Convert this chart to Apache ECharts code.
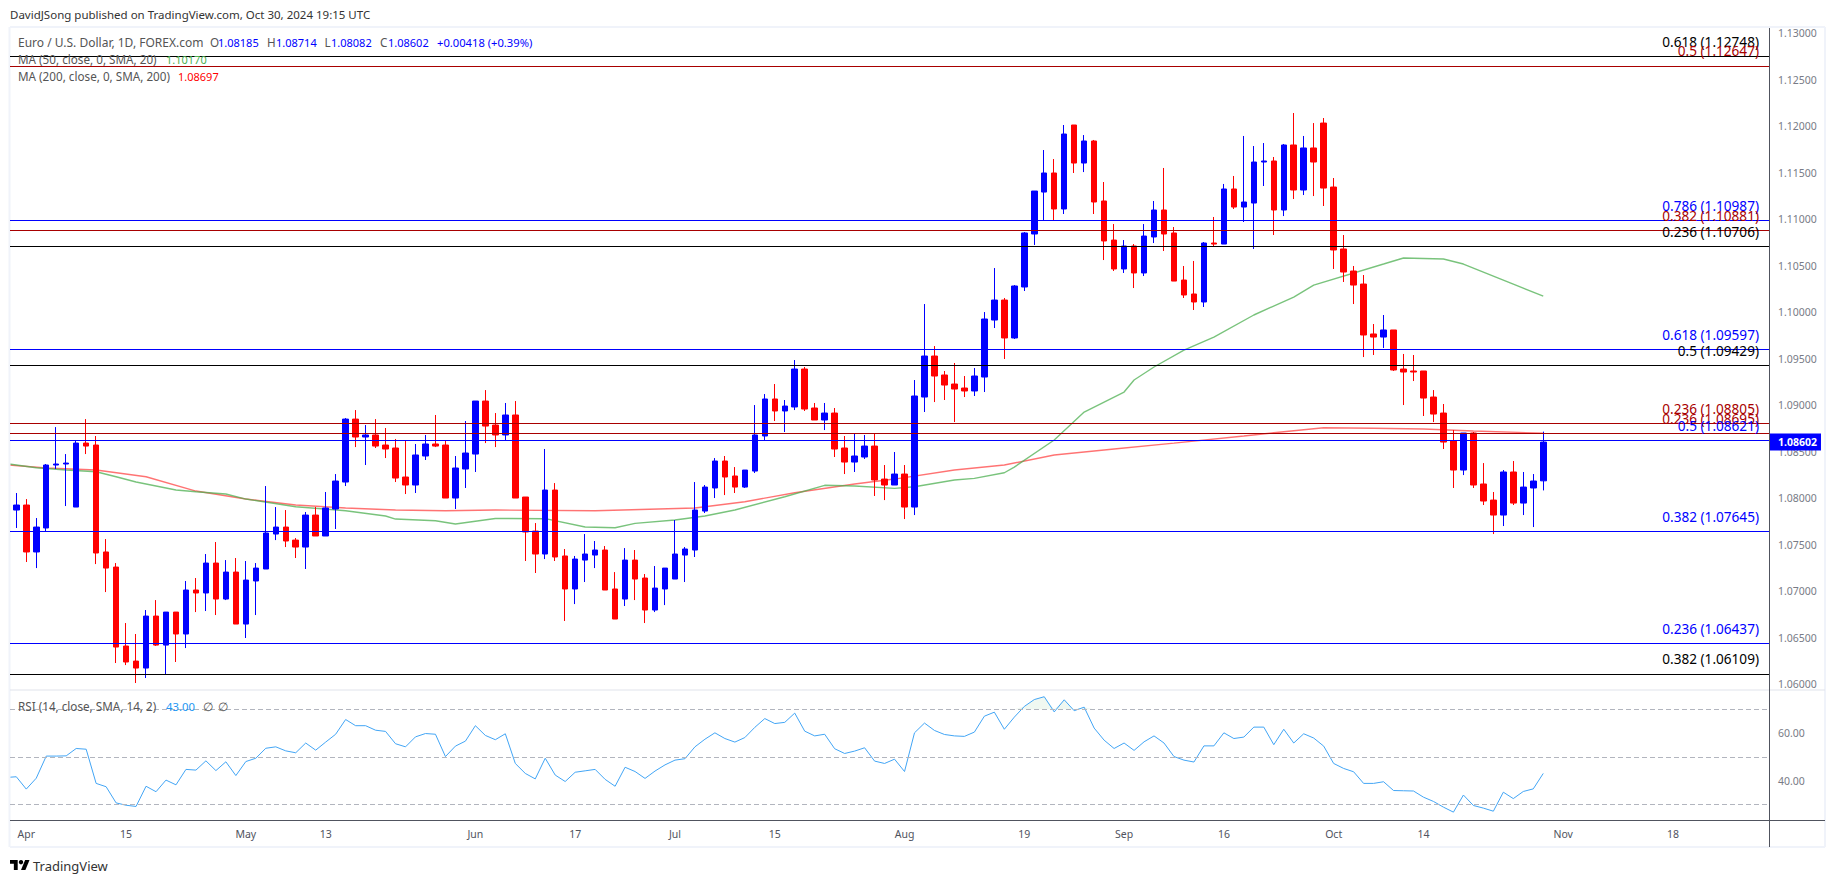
<!DOCTYPE html>
<html>
<head>
<meta charset="utf-8">
<title>Euro / U.S. Dollar, 1D</title>
<script src="https://cdn.jsdelivr.net/npm/echarts@6/dist/echarts.min.js"></script>
<style>
  html, body { margin: 0; padding: 0; background: #fff; }
  #chart { width: 1835px; height: 883px; }
</style>
</head>
<body>
<div id="chart"></div>
<script>
// daily bars, 29 Mar 2024 (bar 0) to 30 Oct 2024 (bar 153)
const candleOpen = [
  1.07871,1.07925,1.07420,1.07678,1.08355,1.08366,1.07903,1.08591,1.08570,1.07420,
  1.07258,1.06409,1.06247,1.06172,1.06731,1.06419,1.06774,1.06538,1.07011,1.06979,
  1.07301,1.06914,1.07204,1.06645,1.07108,1.07237,1.07613,1.07688,1.07548,1.07473,
  1.07817,1.07592,1.07882,1.08172,1.08849,1.08656,1.08678,1.08570,1.08538,1.08226,
  1.08140,1.08452,1.08581,1.08570,1.08000,1.08312,1.08473,1.09043,1.08785,1.08678,
  1.08893,1.08011,1.07645,1.07398,1.08086,1.07377,1.07022,1.07333,1.07387,1.07441,
  1.07022,1.06914,1.07333,1.07140,1.06796,1.07022,1.07129,1.07387,1.07441,1.07860,
  1.08108,1.08398,1.08237,1.08118,1.08290,1.08667,1.09065,1.08936,1.08979,1.09387,
  1.08968,1.08839,1.08914,1.08538,1.08387,1.08441,1.08559,1.08204,1.08140,1.08258,
  1.07903,1.09086,1.09527,1.09323,1.09226,1.09183,1.09151,1.09301,1.09914,1.10129,
  1.09721,1.10269,1.10839,1.11290,1.11495,1.11108,1.12011,1.11602,1.11839,1.11194,
  1.10774,1.10463,1.10710,1.10420,1.10807,1.11097,1.10850,1.10344,1.10194,1.10108,
  1.10742,1.10731,1.11323,1.11129,1.11172,1.11613,1.11624,1.11097,1.11796,1.11312,
  1.11764,1.12032,1.11344,1.10678,1.10441,1.10301,1.09764,1.09731,1.09807,1.09387,
  1.09366,1.09366,1.09086,1.08914,1.08613,1.08301,1.08699,1.08151,1.07978,1.07817,
  1.08280,1.07946,1.08108,1.08185
];
const candleClose = [
  1.07925,1.07420,1.07688,1.08355,1.08366,1.08376,1.08591,1.08559,1.07409,1.07247,
  1.06398,1.06237,1.06172,1.06731,1.06419,1.06774,1.06538,1.07011,1.06979,1.07301,
  1.06914,1.07204,1.06645,1.07118,1.07247,1.07624,1.07688,1.07538,1.07473,1.07817,
  1.07592,1.07893,1.08183,1.08849,1.08656,1.08678,1.08559,1.08527,1.08215,1.08140,
  1.08463,1.08581,1.08559,1.08000,1.08323,1.08484,1.09043,1.08774,1.08678,1.08893,
  1.08000,1.07635,1.07398,1.08086,1.07366,1.07022,1.07344,1.07398,1.07441,1.07011,
  1.06699,1.07333,1.07129,1.06796,1.07032,1.07247,1.07398,1.07452,1.07871,1.08118,
  1.08398,1.08226,1.08118,1.08301,1.08678,1.09065,1.08936,1.08989,1.09387,1.08957,
  1.08839,1.08914,1.08527,1.08387,1.08452,1.08559,1.08194,1.08140,1.08258,1.07903,
  1.09097,1.09527,1.09312,1.09215,1.09172,1.09151,1.09312,1.09925,1.10129,1.09721,
  1.10280,1.10850,1.11301,1.11495,1.11108,1.11914,1.11602,1.11839,1.11183,1.10764,
  1.10463,1.10710,1.10420,1.10817,1.11097,1.10839,1.10333,1.10183,1.10108,1.10742,
  1.10731,1.11323,1.11129,1.11183,1.11613,1.11624,1.11097,1.11796,1.11312,1.11764,
  1.11613,1.11333,1.10667,1.10430,1.10290,1.09753,1.09731,1.09807,1.09377,1.09355,
  1.09355,1.09075,1.08903,1.08602,1.08301,1.08699,1.08140,1.07968,1.07817,1.08280,
  1.07946,1.08118,1.08183,1.08602
];
const candleLow = [
  1.07678,1.07312,1.07247,1.07645,1.08312,1.07914,1.07903,1.08473,1.07290,1.06989,
  1.06226,1.06204,1.06011,1.06065,1.06409,1.06108,1.06237,1.06387,1.06774,1.06785,
  1.06742,1.06903,1.06645,1.06495,1.06742,1.07237,1.07548,1.07473,1.07355,1.07237,
  1.07592,1.07592,1.07667,1.08129,1.08548,1.08355,1.08538,1.08430,1.08172,1.08043,
  1.08054,1.08409,1.08548,1.08000,1.07882,1.08108,1.08280,1.08591,1.08548,1.08624,
  1.08000,1.07323,1.07194,1.07344,1.07323,1.06678,1.06860,1.07097,1.07247,1.07011,
  1.06699,1.06839,1.06903,1.06656,1.06774,1.06849,1.07129,1.07097,1.07366,1.07839,
  1.08000,1.08032,1.08054,1.08108,1.08269,1.08624,1.08828,1.08710,1.08946,1.08936,
  1.08839,1.08731,1.08441,1.08258,1.08280,1.08420,1.08022,1.07978,1.08140,1.07774,
  1.07817,1.08925,1.09032,1.09054,1.08817,1.09086,1.09097,1.09140,1.09828,1.09495,
  1.09710,1.10226,1.10721,1.10989,1.10979,1.11054,1.11495,1.11505,1.11054,1.10559,
  1.10441,1.10420,1.10258,1.10387,1.10742,1.10656,1.10333,1.10151,1.10022,1.10054,
  1.10699,1.10731,1.11108,1.10968,1.10678,1.11355,1.10828,1.11032,1.11215,1.11258,
  1.11247,1.11140,1.10463,1.10323,1.10086,1.09516,1.09538,1.09613,1.09366,1.09000,
  1.09258,1.08882,1.08817,1.08527,1.08108,1.08247,1.08108,1.07925,1.07613,1.07699,
  1.07925,1.07817,1.07688,1.08082
];
const candleHigh = [
  1.08054,1.07989,1.07785,1.08366,1.08763,1.08473,1.08624,1.08849,1.08667,1.07559,
  1.07301,1.06656,1.06538,1.06796,1.06903,1.06774,1.06774,1.07108,1.07140,1.07398,
  1.07527,1.07333,1.07355,1.07323,1.07301,1.08129,1.07903,1.07871,1.07570,1.07850,
  1.07903,1.08065,1.08258,1.08860,1.08946,1.08785,1.08849,1.08753,1.08635,1.08624,
  1.08581,1.08678,1.08893,1.08613,1.08452,1.08828,1.09043,1.09161,1.08914,1.09022,
  1.09043,1.08011,1.07731,1.08527,1.08161,1.07452,1.07377,1.07613,1.07538,1.07484,
  1.07204,1.07462,1.07441,1.07183,1.07269,1.07247,1.07764,1.07473,1.08172,1.08140,
  1.08430,1.08452,1.08333,1.08301,1.09000,1.09118,1.09226,1.09054,1.09484,1.09409,
  1.09022,1.09022,1.08968,1.08667,1.08699,1.08678,1.08699,1.08355,1.08495,1.08355,
  1.09269,1.10086,1.09634,1.09366,1.09452,1.09312,1.09398,1.10000,1.10473,1.10151,
  1.10290,1.10860,1.11301,1.11742,1.11645,1.12011,1.12011,1.11903,1.11850,1.11398,
  1.10946,1.10774,1.10731,1.10946,1.11194,1.11549,1.10914,1.10495,1.10549,1.10753,
  1.11022,1.11377,1.11463,1.11893,1.11785,1.11817,1.11667,1.11807,1.12140,1.11893,
  1.12032,1.12086,1.11441,1.10828,1.10495,1.10398,1.09871,1.09968,1.09807,1.09549,
  1.09538,1.09366,1.09161,1.09011,1.08731,1.08699,1.08710,1.08376,1.08065,1.08301,
  1.08398,1.08280,1.08258,1.08714
];

const ma50Bars = [-1,2,5,8,10,12,16,18,21,23,28,33,37,38,42,44,48,53,57,60,62,66,69,72,77,81,84,88,90,94,96,99,100,104,107,111,112,114,117,120,124,128,130,137,139,143,145,150,153];
const ma50Values = [1.08369,1.08326,1.08301,1.08283,1.08229,1.08172,1.08086,1.08068,1.08043,1.07989,1.07907,1.07864,1.07807,1.07774,1.07756,1.07721,1.07780,1.07778,1.07688,1.07681,1.07728,1.07764,1.07807,1.07871,1.08014,1.08137,1.08129,1.08104,1.08122,1.08194,1.08212,1.08272,1.08333,1.08624,1.08925,1.09140,1.09269,1.09409,1.09591,1.09731,1.09968,1.10161,1.10290,1.10516,1.10581,1.10570,1.10516,1.10301,1.10170];
const ma200Bars = [-1,3,8,13,18,23,28,33,38,43,48,58,68,73,78,84,88,94,99,104,110,116,123,126,131,136,141,146,153];
const ma200Values = [1.08358,1.08323,1.08301,1.08229,1.08075,1.07989,1.07925,1.07893,1.07871,1.07864,1.07871,1.07864,1.07893,1.07960,1.08057,1.08151,1.08204,1.08301,1.08355,1.08463,1.08527,1.08591,1.08667,1.08702,1.08756,1.08750,1.08742,1.08721,1.08697];

// RSI, first value belongs to the bar before bar 0
const rsiValues = [
  41.3,41.6,36.4,41.0,50.3,50.3,50.4,53.5,53.2,38.8,37.4,30.6,29.6,29.1,37.6,35.3,40.2,38.2,44.7,44.4,
  48.3,44.2,47.9,42.1,48.0,49.4,53.6,54.2,52.5,51.7,55.8,52.8,56.2,59.5,65.7,63.1,63.1,61.2,60.7,55.5,
  54.2,58.4,59.8,59.5,50.1,54.5,56.6,63.1,59.0,57.2,59.7,47.2,43.0,40.7,49.4,42.3,39.6,43.5,44.1,44.7,
  40.5,37.6,45.6,43.8,40.9,44.0,46.6,48.6,49.2,54.2,57.4,60.1,57.7,56.2,58.1,62.4,66.1,64.0,64.5,68.4,
  60.8,58.8,59.5,53.4,51.4,52.4,53.8,48.2,47.2,49.0,43.8,60.1,64.2,61.1,59.4,58.8,58.6,60.4,67.1,68.8,
  61.6,66.7,71.2,74.1,75.3,68.9,74.0,69.4,70.9,62.1,57.0,53.5,55.8,52.7,56.3,58.8,55.8,50.1,48.6,47.8,
  54.6,54.6,60.1,57.7,58.3,62.5,62.5,55.1,61.6,55.8,59.7,57.9,54.5,47.2,45.1,43.7,38.8,38.8,39.5,35.8,
  35.7,35.6,33.0,31.2,28.8,26.7,33.9,29.5,28.4,27.1,35.1,32.4,35.4,36.5,43.0
];
const rsiLevels = [70, 50, 30];
const rsiTicks = [60, 40];

// fibonacci levels
const fibRatios = ['0.618','0.5','0.786','0.382','0.236','0.618','0.5','0.236','0.236','0.5','0.382','0.236','0.382'];
const fibPrices = [1.12748,1.12647,1.10987,1.10881,1.10706,1.09597,1.09429,1.08805,1.08695,1.08621,1.07645,1.06437,1.06109];
const fibColors = ['#000000','#a80000','#0000ff','#a80000','#000000','#0000ff','#000000','#a80000','#a80000','#0000ff','#0000ff','#0000ff','#000000'];

const priceTicks = [1.06,1.065,1.07,1.075,1.08,1.085,1.09,1.095,1.10,1.105,1.11,1.115,1.12,1.125,1.13];
const timeTickBars = [1,11,23,31,46,56,66,76,89,101,111,121,132,141,155,166];
const timeTickLabels = ['Apr','15','May','13','Jun','17','Jul','15','Aug','19','Sep','16','Oct','14','Nov','18'];
const lastPrice = 1.08602;

const FONT = '"Noto Sans", sans-serif';
const GREY = '#50535e';

const xRange = { min: -0.631, max: 175.62 };

function legendText(x, y, text, fill, fontSize) {
  return {
    type: 'text', x, y, silent: true, z: 20,
    style: { text, fill, font: (fontSize || 11.7) + 'px ' + FONT, textVerticalAlign: 'middle', textAlign: 'left' }
  };
}
function rule(x1, y1, x2, y2, stroke, lineWidth) {
  return { type: 'line', silent: true, z: 5, shape: { x1, y1, x2, y2 }, style: { stroke, lineWidth } };
}

const frame = '#f0f3fa';
const graphics = [
  // outer frame
  rule(10, 27, 1825, 27, frame, 2),
  rule(10, 847, 1825, 847, frame, 2),
  rule(9.5, 27, 9.5, 847, frame, 2),
  rule(1825, 27, 1825, 847, frame, 2),
  // pane divider and axis lines
  rule(10, 690, 1825, 690, '#e0e3eb', 1),
  rule(10, 820.5, 1825, 820.5, GREY, 1),
  rule(1769.5, 28, 1769.5, 847, GREY, 1),
  // header
  legendText(10, 14.5, 'DavidJSong published on TradingView.com, Oct 30, 2024 19:15 UTC', '#333333', 11.5),
  // price legend
  legendText(18, 42, 'Euro / U.S. Dollar, 1D, FOREX.com', '#555555', 12),
  legendText(210, 42, 'O', '#555555'),
  legendText(218, 42, '1.08185', '#0000ff', 11),
  legendText(267, 42, 'H', '#555555'),
  legendText(276, 42, '1.08714', '#0000ff', 11),
  legendText(324.5, 42, 'L', '#555555'),
  legendText(331, 42, '1.08082', '#0000ff', 11),
  legendText(380, 42, 'C', '#555555'),
  legendText(388, 42, '1.08602', '#0000ff', 11),
  legendText(437, 42, '+0.00418 (+0.39%)', '#0000ff', 11.2),
  legendText(18, 59, 'MA (50, close, 0, SMA, 20)', '#555555'),
  legendText(166, 59, '1.10170', '#4caf50', 11),
  legendText(18, 76, 'MA (200, close, 0, SMA, 200)', '#555555'),
  legendText(178, 76, '1.08697', '#ff0000', 11),
  // rsi legend
  legendText(18, 706, 'RSI (14, close, SMA, 14, 2)', '#555555'),
  legendText(166, 706, '43.00', '#2196f3', 11.3),
  legendText(203, 706, '∅', '#555555'),
  legendText(218, 706, '∅', '#555555'),
  // footer
  {
    type: 'polygon', silent: true, x: 10, y: 857.8, scaleX: 0.55, scaleY: 0.55,
    shape: { points: [[0, 4], [14, 4], [14, 22], [7, 22], [7, 11], [0, 11]] }, style: { fill: '#000000' }
  },
  {
    type: 'polygon', silent: true, x: 10, y: 857.8, scaleX: 0.55, scaleY: 0.55,
    shape: { points: [[20, 22], [27.5, 4], [35.5, 4], [28, 22]] }, style: { fill: '#000000' }
  },
  { type: 'circle', silent: true, x: 21, y: 862.2, shape: { cx: 0, cy: 0, r: 2.2 }, style: { fill: '#000000' } },
  legendText(33, 866, 'TradingView', '#333333', 13)
];

const option = {
  animation: false,
  backgroundColor: '#ffffff',
  textStyle: { fontFamily: FONT },
  grid: [
    { left: 10, top: 28, width: 1759, height: 662 },
    { left: 10, top: 690, width: 1759, height: 130 }
  ],
  xAxis: [
    {
      type: 'value', gridIndex: 0, min: xRange.min, max: xRange.max,
      axisLine: { show: false }, axisTick: { show: false }, axisLabel: { show: false }, splitLine: { show: false }
    },
    {
      type: 'value', gridIndex: 1, min: xRange.min, max: xRange.max,
      axisLine: { show: false }, axisTick: { show: false }, splitLine: { show: false },
      axisLabel: {
        customValues: timeTickBars,
        formatter: (v) => timeTickLabels[timeTickBars.indexOf(v)],
        color: GREY, fontSize: 10.5, fontFamily: FONT, margin: 8
      }
    }
  ],
  yAxis: [
    {
      type: 'value', gridIndex: 0, position: 'right', min: 1.05936, max: 1.13054,
      axisLine: { show: false }, axisTick: { show: false }, splitLine: { show: false },
      axisLabel: {
        customValues: priceTicks,
        formatter: (v) => v.toFixed(5),
        color: '#787b86', fontSize: 10.5, fontFamily: FONT, margin: 9
      }
    },
    {
      type: 'value', gridIndex: 1, position: 'right', min: 23.39, max: 78.13,
      axisLine: { show: false }, axisTick: { show: false }, splitLine: { show: false },
      axisLabel: {
        customValues: rsiTicks,
        formatter: (v) => v.toFixed(2),
        color: '#787b86', fontSize: 10.5, fontFamily: FONT, margin: 9
      }
    }
  ],
  graphic: graphics,
  series: [
    {
      name: 'fib', type: 'line', xAxisIndex: 0, yAxisIndex: 0, data: [], z: 1,
      markLine: {
        silent: true, symbol: 'none', animation: false, precision: 5,
        data: fibPrices.map((p, i) => ({
          yAxis: p,
          lineStyle: { color: fibColors[i], width: 1, type: 'solid' },
          label: {
            formatter: fibRatios[i] + ' (' + p.toFixed(5) + ')',
            position: 'insideEndTop', distance: [10, 8],
            color: fibColors[i], fontSize: 13.6, fontFamily: FONT
          }
        }))
      }
    },
    {
      name: 'MA 200', type: 'line', xAxisIndex: 0, yAxisIndex: 0, z: 2, symbol: 'none',
      lineStyle: { color: '#ff0000', width: 1.4, opacity: 0.55 },
      data: ma200Bars.map((b, i) => [b, ma200Values[i]])
    },
    {
      name: 'MA 50', type: 'line', xAxisIndex: 0, yAxisIndex: 0, z: 2, symbol: 'none',
      lineStyle: { color: '#4caf50', width: 1.4, opacity: 0.75 },
      data: ma50Bars.map((b, i) => [b, ma50Values[i]])
    },
    {
      name: 'EURUSD', type: 'candlestick', xAxisIndex: 0, yAxisIndex: 0, z: 3,
      barWidth: 6,
      encode: { x: 0, y: [1, 2, 3, 4] },
      itemStyle: { color: '#0000ff', color0: '#ff0000', borderColor: '#0000ff', borderColor0: '#ff0000', borderWidth: 1 },
      data: candleOpen.map((o, i) => [i, o, candleClose[i], candleLow[i], candleHigh[i]])
    },
    {
      name: 'last', type: 'line', xAxisIndex: 0, yAxisIndex: 0, data: [], z: 10,
      markLine: {
        silent: true, symbol: 'none', animation: false, precision: 5,
        lineStyle: { opacity: 0 },
        data: [{
          yAxis: lastPrice,
          label: {
            formatter: lastPrice.toFixed(5), position: 'end', distance: 1, opacity: 1,
            color: '#ffffff', fontSize: 10.5, fontWeight: 'bold', fontFamily: FONT,
            backgroundColor: '#0000ff', padding: [3, 4, 3, 8]
          }
        }]
      }
    },
    {
      name: 'rsi levels', type: 'line', xAxisIndex: 1, yAxisIndex: 1, data: [], z: 1,
      markLine: {
        silent: true, symbol: 'none', animation: false,
        label: { show: false },
        lineStyle: { color: '#b2b5be', width: 1, type: [5, 3] },
        data: rsiLevels.map((v) => ({ yAxis: v }))
      }
    },
    {
      name: 'rsi overbought', type: 'line', xAxisIndex: 1, yAxisIndex: 1, z: 1, symbol: 'none',
      lineStyle: { opacity: 0 },
      areaStyle: { origin: 70, color: 'rgba(76,175,80,0.12)' },
      data: rsiValues.map((v, i) => [i - 1, Math.max(v, 70)])
    },
    {
      name: 'RSI', type: 'line', xAxisIndex: 1, yAxisIndex: 1, z: 2, symbol: 'none',
      lineStyle: { color: '#42a5f5', width: 1 },
      data: rsiValues.map((v, i) => [i - 1, v])
    }
  ]
};

const chart = echarts.init(document.getElementById('chart'), null, { renderer: 'svg' });
chart.setOption(option);
</script>
</body>
</html>
